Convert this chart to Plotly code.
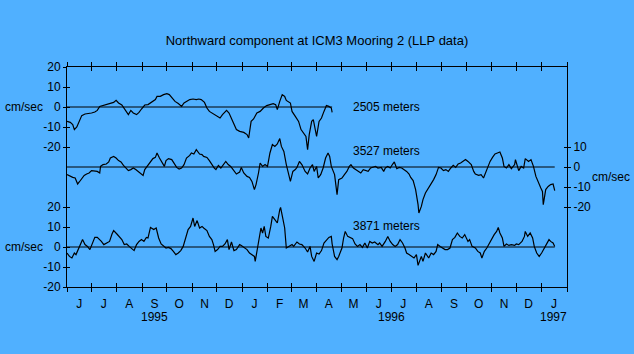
import pandas as pd
import plotly.graph_objects as go

START = "1995-06-01"
END = "1997-02-01"

# --- data: day offsets from 1 June 1995, values in cm/sec ---
top_days = [0, 4, 7, 9, 12, 15, 18, 22, 26, 30, 34, 37, 40, 44, 48, 53, 57, 60, 63, 67, 71, 75, 78, 81, 85, 88,
            91, 95, 99, 103, 108, 110, 114, 118, 122, 125, 128, 132, 136, 140, 143, 146, 150, 154, 158, 161, 164,
            168, 171, 174, 177, 180, 183, 187, 190, 193, 195, 198, 201, 205, 207, 211, 216, 220, 222, 225, 228,
            232, 236, 240, 244, 248, 252, 255, 257, 260, 263, 266, 268, 273, 275, 279, 283, 286, 289, 292, 294,
            296, 299, 301, 303, 305, 308, 311, 314, 317, 320, 323, 324]
top_vals = [-7.2, -7.7, -8.8, -11.3, -10, -7.2, -4.3, -3.5, -3.3, -3, -2.5, -1.7, 0.3, 0.7, 1.2, 1.7, 2.3, 3.3, 2,
            1, -1.7, -3.8, -1.7, -3, -3.8, -2.7, -1, 1, 1.2, 2.3, 3.7, 5.3, 5.3, 6.2, 6.7, 6.2, 4.5, 2.8, 1.7, 0.3,
            2, 2.8, 3.7, 4, 3.7, 4.0, 3.7, 2.3, -0.5, -2.2, -3, -3.8, -4.7, -5.5, -3.8, -2.2, -1.7, -3, -5.5, -8.8,
            -11.3, -12.2, -12.7, -13.8, -15.5, -7.2, -6, -3, -2.2, -0.5, 0.7, 1.2, 1.7, 1.2, -1.3, 2.8, 6.2, 5.3,
            3.3, 2, -2.2, -4.7, -7.2, -11.3, -13, -14.7, -21.3, -13.8, -7.2, -6.3, -10.5, -14.7, -7.2, -5.5, -2.2,
            0.7, 0.3, -0.5, -2.7]

mid_days = [0, 4, 7, 10, 13, 15, 18, 21, 24, 27, 30, 34, 37, 40, 41, 44, 48, 51, 53, 57, 60, 63, 66, 69, 72, 75,
            78, 81, 84, 87, 90, 93, 95, 98, 101, 105, 108, 110, 113, 116, 119, 121, 124, 128, 131, 134, 137, 140,
            143, 146, 150, 152, 155, 158, 162, 165, 167, 171, 174, 177, 180, 182, 185, 188, 191, 194, 197, 200,
            203, 207, 211, 213, 216, 220, 223, 226, 229, 231, 234, 236, 239, 242, 245, 248, 251, 254, 257, 260,
            262, 265, 268, 270, 273, 276, 279, 281, 284, 287, 291, 294, 297, 300, 302, 305, 307, 310, 313, 316,
            319, 321, 323, 327, 328, 330, 332, 336, 339, 342, 345, 347, 350, 353, 356, 359, 362, 365, 368, 371,
            374, 377, 380, 384, 387, 389, 392, 395, 398, 400, 403, 406, 409, 412, 415, 418, 420, 423, 426, 429,
            430, 433, 435, 438, 442, 445, 448, 451, 454, 457, 460, 463, 466, 469, 472, 475, 478, 481, 484, 487,
            490, 494, 497, 499, 503, 506, 509, 512, 514, 517, 520, 523, 526, 529, 532, 534, 537, 540, 543, 547,
            548, 552, 555, 558, 560, 564, 567, 570, 573, 576, 579, 581, 582, 585, 588, 591, 594, 596]
mid_vals = [-3.8, -4.7, -5.2, -5.5, -8.5, -7.5, -5.5, -4.2, -3.5, -3, -1.8, -2.2, -2.2, -3, 0.3, 1.2, 1.5, 2.5,
            4.5, 5.3, 4.5, 3.2, 2.5, 0.8, -0.5, -1.8, -1.3, -0.5, -1.3, -2.2, -3, -4.2, -1.3, 0.3, 1.5, 4.2, 4.8,
            7, 4.5, 2.5, 0.3, 3.2, 4.2, 3.7, 2, -0.2, -1, -0.5, 1.2, 4.5, 5.8, 7, 6.5, 8.7, 6.5, 6.2, 5.3, 4.8,
            3.2, 1.2, -0.5, -1.3, 0.8, -0.5, 1.5, 2.8, 1.2, 0.3, -1.3, -3.5, -2.5, -0.2, -3, -4.7, -5.2, -7.2,
            -11.3, -8.8, -3, 2, 0.3, 1.2, 0.3, 7, 11.2, 10.3, 11.5, 14.2, 10.3, 7.8, 1.2, -2.2, -7.2, -2.2, -1.3,
            -0.2, 2.8, 1.2, -2.2, -3.5, -0.5, 1.2, -2.2, 0.3, -5.5, -3.8, -0.5, 4.5, 7, 5.3, 0.3, -3.8, -7.2,
            -13.8, -6.3, -5.5, -3.8, -2.2, 0.3, 1.2, -0.5, -1.3, -2.2, -3, -1.3, -1.8, -2.2, -0.5, -0.2, 0.3,
            -0.5, -0.2, -2.2, -0.5, 0.3, -0.5, 1.5, 2.5, -0.8, -0.2, -0.5, -1.3, -2.2, -3.5, -5.2, -6.8, -11.3,
            -18.8, -23, -19.7, -16.3, -13, -10.5, -8.5, -6.3, -3.8, -0.2, -0.5, -1.8, -1.3, -2.2, -0.5, 0.8,
            -0.2, 1.5, 2, 2.8, 3.7, 2.8, 1.2, -2.2, -3.5, -4.2, -3.8, -5.5, -2.2, 0.3, 2.8, 4.8, 6.5, 7, 7.5,
            4.5, 0.3, -0.5, 1.2, -0.8, 1.2, 3.7, -1.8, 0.3, -0.5, 4.2, 2.8, 3.7, 0.3, -4.7, -8, -10.5, -12.2,
            -18.8, -11.3, -9.7, -8.8, -8.5, -11.8]

bot_days = [0, 3, 6, 9, 11, 14, 17, 19, 22, 25, 28, 31, 34, 37, 40, 42, 45, 49, 52, 55, 57, 61, 64, 67, 70, 73,
            76, 79, 82, 85, 88, 91, 94, 97, 99, 102, 106, 109, 112, 115, 118, 121, 124, 127, 130, 133, 136, 139,
            142, 145, 148, 151, 154, 156, 159, 162, 165, 167, 171, 174, 177, 179, 181, 184, 187, 190, 193, 196,
            198, 201, 204, 207, 211, 213, 216, 220, 223, 226, 229, 230, 233, 235, 237, 239, 241, 243, 246, 249,
            251, 254, 257, 260, 261, 264, 266, 268, 272, 275, 277, 281, 284, 287, 291, 294, 297, 299, 302, 305,
            308, 311, 314, 317, 320, 323, 324, 327, 330, 332, 336, 338, 340, 343, 346, 349, 352, 355, 358, 361,
            364, 367, 370, 373, 376, 380, 382, 385, 389, 392, 395, 398, 401, 404, 407, 410, 413, 415, 418, 421,
            424, 427, 429, 433, 435, 438, 442, 445, 448, 451, 453, 456, 459, 462, 465, 468, 471, 474, 477, 480,
            483, 486, 490, 492, 495, 499, 502, 505, 507, 510, 513, 516, 519, 522, 525, 527, 529, 532, 534, 537,
            540, 543, 547, 549, 552, 556, 559, 560, 563, 566, 569, 571, 574, 577, 580, 583, 586, 589, 591, 594,
            596]
bot_vals = [-3, -4.7, -5.5, -3, -3.8, -0.8, 1.2, 3.7, 1.2, 0.3, -1.3, 2, 4.8, 4.8, 3.7, 2.8, 1.2, 2, 2.8, 6.5,
            8.2, 6.5, 5.3, 3.7, 1.2, 1.5, 0.3, -0.8, -1.8, 1.2, 2.8, 3.7, 2.8, 4.8, 4.5, 9.8, 8.7, 9.5, 4.5, 1.5,
            0.3, -0.5, -0.2, -0.8, -2.2, -3.8, -3, -1.8, 0.3, 4.5, 8.7, 10.3, 14.5, 10.3, 13.2, 9.5, 10.3, 9.5,
            8.2, 5.3, 3.7, 1.2, -2.2, -1.3, 0.3, 0.3, 1.5, 3.7, -1.3, 2.5, -1.8, -1.3, 1.2, 0.8, -0.2, -1.3, -3,
            -3.8, -4.7, -7.2, -0.5, 4.5, 9.5, 7, 10.3, 5.3, 4.5, 10.3, 15.3, 13.7, 12, 18.7, 19.8, 13.7, 9.5,
            -0.5, 0.3, 1.2, 0.3, 2.5, 1.5, 1.2, -0.5, -2.5, 0.3, -4.7, -7.2, -3, -3.5, -1.8, 2, 3.7, 4.8, 5.3,
            1.5, -4.7, -6.3, -4.7, -0.5, 4.5, 7.8, 5.3, 4.8, 4.2, 1.5, 0.3, 1.2, -0.2, 2, -0.5, 2.8, 2, 2.5, 1.2,
            2, 0.3, 2.8, 5.3, 2.8, 1.2, 0.3, 1.2, 3.7, 2, -0.5, -3, -3.8, -4.7, -5.5, -3.8, -9.2, -4.7, -7.2, -3,
            -5.5, -3, -3.8, -2.2, 1.2, 0.3, -0.5, -1.3, -1.3, -0.5, 3.7, 4.8, 7, 5.3, 4.5, 6.2, 2.8, 3.7, 0.3,
            -0.5, -2.2, -3, -5.5, -2.2, -0.5, 2, 3.7, 6.2, 7.8, 9.8, 7, 4.5, 0.3, 1.5, 0.8, 1.2, 0.8, 1.5, 1.2,
            2.8, 5.3, 7.8, 5.3, 7, 4.5, 0.3, -3, -4.7, -3, -0.8, 1.2, 3.7, 2.8, 2, 0.3]

series_labels = ["2505 meters", "3527 meters", "3871 meters"]
month_letters = ["J", "J", "A", "S", "O", "N", "D", "J", "F", "M", "A", "M",
                 "J", "J", "A", "S", "O", "N", "D", "J"]
year_labels = ["1995", "1996", "1997"]
y_ticks_left = [20, 10, 0, -10, -20]
y_ticks_right = [10, 0, -10, -20]

BG = "#50B0FF"
INK = "black"
FONT = "Liberation Sans, Arial, sans-serif"

start = pd.Timestamp(START)


def to_dates(days):
    return [start + pd.Timedelta(days=int(d)) for d in days]


month_starts = list(pd.date_range(START, END, freq="MS"))
month_mids = [m + pd.Timedelta(days=15) for m in month_starts[:-1]]

fig = go.Figure()
for days, vals, ya in [(top_days, top_vals, "y2"), (mid_days, mid_vals, "y3"), (bot_days, bot_vals, "y")]:
    d = to_dates(days)
    # zero reference line spanning the record
    fig.add_trace(go.Scatter(x=[d[0], d[-1]], y=[0, 0], yaxis=ya, mode="lines",
                             line=dict(color=INK, width=1), hoverinfo="skip"))
    fig.add_trace(go.Scatter(x=d, y=vals, yaxis=ya, mode="lines",
                             line=dict(color=INK, width=1.2)))

# empty carrier traces so that the tick-only overlay axes are drawn
for xa, ya in [("x2", "y4"), ("x3", "y5"), ("x", "y6")]:
    fig.add_trace(go.Scatter(x=[START], y=[None], xaxis=xa, yaxis=ya, mode="lines",
                             hoverinfo="skip", showlegend=False))

xr = [START, END]
common_x = dict(type="date", range=xr, showgrid=False, zeroline=False)
fig.update_layout(
    width=634, height=354,
    margin=dict(l=67, r=67, t=67, b=67),
    paper_bgcolor=BG, plot_bgcolor=BG,
    showlegend=False,
    font=dict(family=FONT, size=12, color=INK),
    title=dict(text="Northward component at ICM3 Mooring 2 (LLP data)", x=0.5, xanchor="center",
               y=1 - 40 / 354, yanchor="middle", font=dict(size=13, family=FONT, color=INK)),
    # month letters
    xaxis=dict(**common_x, tickmode="array", tickvals=month_mids, ticktext=month_letters, ticks="",
               ticklabelstandoff=6, showline=True, linecolor=INK, linewidth=1, mirror=True,
               tickfont=dict(size=12)),
    # month boundary ticks crossing the bottom and top frame lines
    xaxis2=dict(**common_x, overlaying="x", anchor="y", side="bottom", showticklabels=False,
                tickmode="array", tickvals=month_starts, ticks="outside", ticklen=4, tickcolor=INK,
                tickwidth=1, showline=False, mirror="ticks"),
    xaxis3=dict(**common_x, overlaying="x", anchor="y", side="bottom", showticklabels=False,
                tickmode="array", tickvals=month_starts, ticks="inside", ticklen=4, tickcolor=INK,
                tickwidth=1, showline=False, mirror="ticks"),
)

common_y = dict(showgrid=False, zeroline=False, tickmode="array", tickcolor=INK, tickwidth=1)
left_text = [str(v) for v in y_ticks_left]
right_text = [str(v) for v in y_ticks_right]
fig.update_layout(
    yaxis=dict(**common_y, range=[-20, 90], side="left", tickvals=y_ticks_left, ticktext=left_text,
               ticks="outside", ticklen=3, showline=True, linecolor=INK, linewidth=1),
    yaxis2=dict(**common_y, range=[-90, 20], side="left", overlaying="y", tickvals=y_ticks_left,
                ticktext=left_text, ticks="outside", ticklen=3, showline=False),
    yaxis3=dict(**common_y, range=[-60, 50], side="right", overlaying="y", anchor="x",
                tickvals=y_ticks_right, ticktext=right_text, ticks="outside", ticklen=3,
                showline=True, linecolor=INK, linewidth=1),
    yaxis4=dict(**common_y, range=[-20, 90], side="left", overlaying="y", anchor="x2",
                tickvals=y_ticks_left, showticklabels=False, ticks="inside", ticklen=3),
    yaxis5=dict(**common_y, range=[-90, 20], side="left", overlaying="y", anchor="x3",
                tickvals=y_ticks_left, showticklabels=False, ticks="inside", ticklen=3),
    yaxis6=dict(**common_y, range=[-60, 50], side="right", overlaying="y", anchor="x",
                tickvals=y_ticks_right, showticklabels=False, ticks="inside", ticklen=3),
)

# axis unit labels
for yref in ["y2", "y"]:
    fig.add_annotation(text="cm/sec", xref="paper", x=(24 - 67) / 500, yref=yref, y=0,
                       xanchor="center", yanchor="middle", showarrow=False)
fig.add_annotation(text="cm/sec", xref="paper", x=(611 - 67) / 500, yref="y3", y=-5,
                   xanchor="center", yanchor="middle", showarrow=False)

# depth labels
for txt, yref, yv in zip(series_labels, ["y2", "y3", "y"], [0, 8.2, 10.7]):
    fig.add_annotation(text=txt, xref="paper", x=(351 - 67) / 500, yref=yref, y=yv,
                       xanchor="left", yanchor="middle", showarrow=False)

# year labels
for txt, xd in zip(year_labels, ["1995-09-16", "1996-07-01", "1997-01-16"]):
    fig.add_annotation(text=txt, xref="x", x=xd, yref="paper", y=-(317 - 287) / 220,
                       xanchor="center", yanchor="middle", showarrow=False)

fig.write_html("out.html")
